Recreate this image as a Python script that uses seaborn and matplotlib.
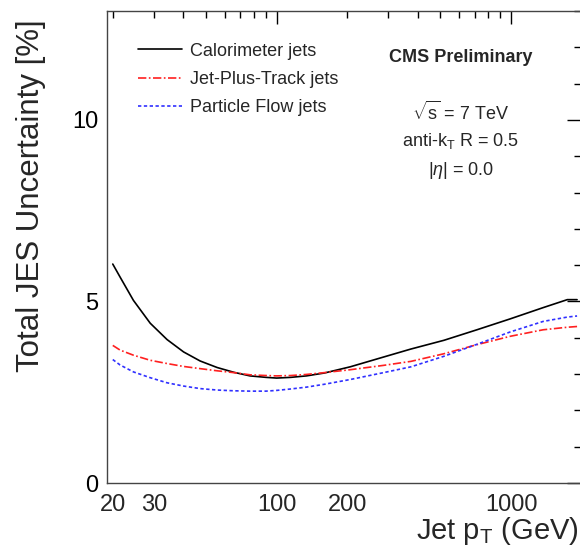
import numpy as np
import pandas as pd
import matplotlib
matplotlib.use("Agg")
import matplotlib.pyplot as plt
import seaborn as sns
from matplotlib.ticker import FixedLocator, NullFormatter, MultipleLocator

pt = [20, 21.5, 24.5, 28.9, 34.1, 40.1, 47.2, 55.8, 65.6, 77, 90, 100, 115, 134, 160, 206, 286, 374, 517, 715, 991, 1370, 1737, 1912]
calo = [6.03, 5.67, 5.03, 4.40, 3.95, 3.61, 3.36, 3.18, 3.05, 2.95, 2.91, 2.89, 2.91, 2.95, 3.03, 3.20, 3.47, 3.69, 3.93, 4.22, 4.52, 4.83, 5.05, 5.05]
jpt = [3.79, 3.66, 3.52, 3.38, 3.29, 3.21, 3.15, 3.09, 3.04, 2.98, 2.96, 2.95, 2.96, 2.99, 3.04, 3.12, 3.24, 3.35, 3.56, 3.81, 4.04, 4.22, 4.29, 4.31]
pf = [3.40, 3.25, 3.06, 2.90, 2.76, 2.67, 2.60, 2.56, 2.54, 2.53, 2.53, 2.55, 2.59, 2.64, 2.72, 2.85, 3.04, 3.20, 3.49, 3.82, 4.16, 4.45, 4.57, 4.60]
series_names = ["Calorimeter jets", "Jet-Plus-Track jets", "Particle Flow jets"]
xtick_labels = ["20", "30", "100", "200", "1000"]
xtick_vals = [20, 30, 100, 200, 1000]

sns.set_style("white")
plt.rcParams['font.family'] = ['Liberation Sans', 'DejaVu Sans']
plt.rcParams['mathtext.fontset'] = 'custom'
plt.rcParams['mathtext.rm'] = 'Liberation Sans'
plt.rcParams['mathtext.it'] = 'Liberation Sans:italic'

fig = plt.figure(figsize=(5.8, 5.51), dpi=100)
ax = fig.add_axes([107/580, 1-483/551, 475/580, 472/551])

df = pd.DataFrame({"pt": pt * 3,
                   "val": calo + jpt + pf,
                   "series": [series_names[0]]*len(pt) + [series_names[1]]*len(pt) + [series_names[2]]*len(pt)})
styles = [("black", "-"), ("#ff2020", (0, (5, 1.5, 1, 1.5))), ("#3030ff", (0, (2, 1.5)))]
for name, (c, ls) in zip(series_names, styles):
    sub = df[df.series == name]
    sns.lineplot(data=sub, x="pt", y="val", ax=ax, color=c, linestyle=ls, lw=1.2, label=name, estimator=None, sort=False)

ax.set_xscale("log")
ax.set_xlim(18.9, 2007)
ax.set_ylim(0, 13)

ax.xaxis.set_major_locator(FixedLocator([100, 1000]))
minors = [m * d for d in (10, 100, 1000) for m in range(2, 10)]
ax.xaxis.set_minor_locator(FixedLocator(minors))
ax.xaxis.set_major_formatter(NullFormatter())
ax.xaxis.set_minor_formatter(NullFormatter())
for v, lab in zip(xtick_vals, xtick_labels):
    ax.text(v, -0.3, lab, transform=ax.transData, ha="center", va="top", fontsize=17)

ax.yaxis.set_major_locator(FixedLocator([0, 5, 10]))
ax.yaxis.set_minor_locator(MultipleLocator(1))
ax.tick_params(axis="both", which="both", direction="in", top=True, right=True, labelsize=17, colors="black")
ax.tick_params(axis="x", which="major", length=9.5, width=1)
ax.tick_params(axis="x", which="minor", length=5, width=1)
ax.tick_params(axis="y", which="major", length=11, width=1)
ax.tick_params(axis="y", which="minor", length=5.5, width=1)
ax.tick_params(axis="y", pad=6)
for s in ax.spines.values():
    s.set_color("#444444")
    s.set_linewidth(1)

ax.set_xlabel("")
ax.set_ylabel("")
fig.text(31/580, 1-196/551, "Total JES Uncertainty [%]", rotation=90, ha="center", va="center", fontsize=22.5)
fig.text(579/580, 1-531/551, r"Jet p$_{\mathrm{T}}$ (GeV)", ha="right", va="center", fontsize=21)

leg = ax.legend(loc="upper left", bbox_to_anchor=(0.05, 0.948), frameon=False, fontsize=13,
                handlelength=2.45, handletextpad=0.45, labelspacing=0.62, borderaxespad=0)

fig.text(461/580, 1-58/551, "CMS Preliminary", ha="center", va="center", fontsize=13, fontweight="bold")
fig.text(461/580, 1-112/551, r"$\sqrt{\mathrm{s}}$ = 7 TeV", ha="center", va="center", fontsize=13)
fig.text(461/580, 1-141/551, r"anti-k$_{\mathrm{T}}$ R = 0.5", ha="center", va="center", fontsize=13)
fig.text(461/580, 1-170/551, r"|$\eta$| = 0.0", ha="center", va="center", fontsize=13)

fig.savefig("out.png", dpi=100)
